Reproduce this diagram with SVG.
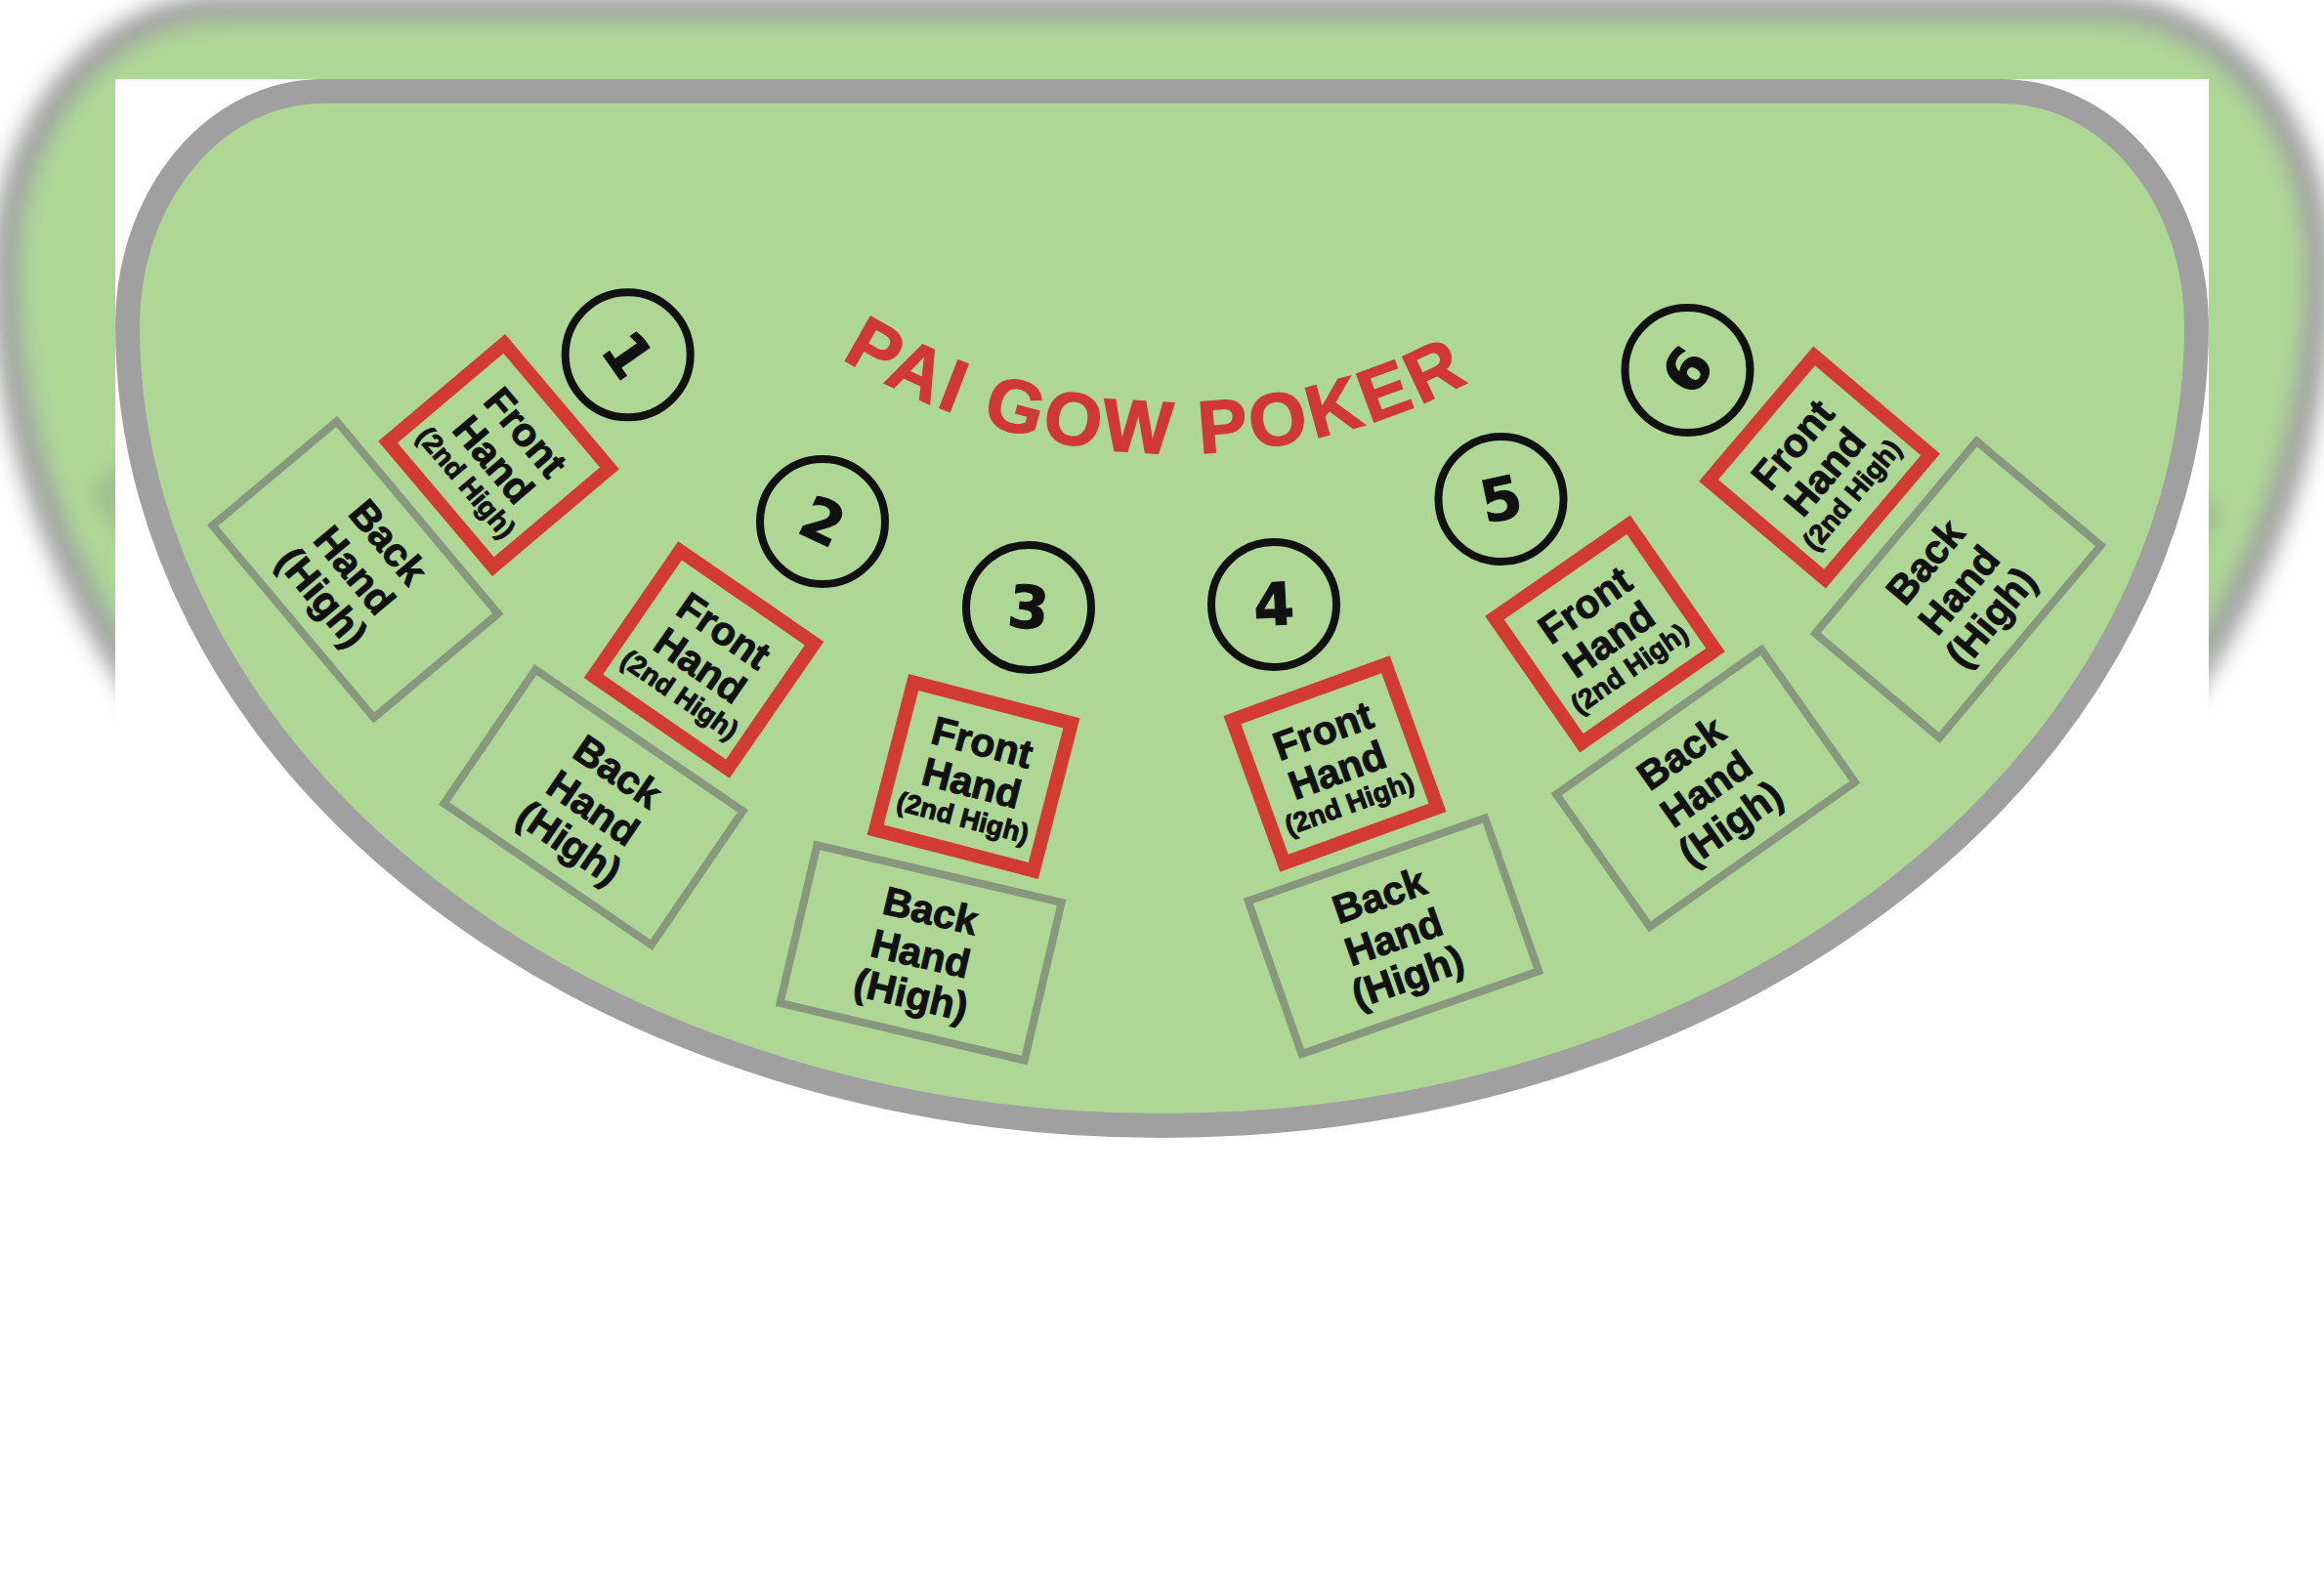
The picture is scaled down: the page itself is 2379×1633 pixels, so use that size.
<svg xmlns="http://www.w3.org/2000/svg" width="2379" height="1633" viewBox="0 0 2379 1633">
<defs>
<style>
.felt{fill:#aed796;stroke:#a0a0a0;stroke-width:25}
.front{fill:none;stroke:#d23a34;stroke-width:14}
.back{fill:none;stroke:#87987f;stroke-width:8}
.seat{fill:none;stroke:#111;stroke-width:8}
.lbl{font-family:"Liberation Sans",Arial,sans-serif;font-weight:bold;fill:#111;stroke:#111;stroke-width:1px;text-anchor:middle}
.big{font-size:41px}
.small{font-size:28px}
.num{font-family:"DejaVu Sans",sans-serif;font-weight:bold;font-size:60px;fill:#111;stroke:#111;stroke-width:1px;text-anchor:middle}
.title{font-family:"Liberation Sans",Arial,sans-serif;font-weight:bold;font-size:76px;fill:#cf3836;stroke:#cf3836;stroke-width:1.5px;letter-spacing:4px;text-anchor:middle}
</style>
<path id="outline" d="M330,93.5 H2049 A199.5,239.5 0 0 1 2248.5,333 A1059,819.5 0 0 1 130.5,333 A199.5,239.5 0 0 1 330,93.5 Z"/>
<path id="titleArc" d="M743.9,273.7 A650,650 0 0 0 1629.9,304.7" fill="none"/>
<filter id="blur" x="-20%" y="-20%" width="140%" height="140%"><feGaussianBlur stdDeviation="10"/></filter>
</defs>
<rect width="2379" height="1633" fill="#ffffff"/>
<g id="backdrop" filter="url(#blur)" transform="translate(1189.5,815) scale(1.1185) translate(-1189.5,-815)">
<use href="#outline" class="felt"/>
<rect class="back" x="-128.5" y="-83" width="257" height="166" transform="translate(363.7,583.2) rotate(50)"/>
<rect class="back" x="-128.5" y="-83" width="257" height="166" transform="translate(2004.4,603.5) rotate(-50)"/>
</g>
<rect x="118" y="81" width="2143" height="1552" fill="#ffffff"/>
<g id="table"><use href="#outline" class="felt"/></g>
<g id="title"><text class="title"><textPath href="#titleArc" startOffset="50%">PAI GOW POKER</textPath></text></g>

<g id="seat-1-number" transform="translate(642.7,363.3)"><circle class="seat" r="64"/><text class="num" y="21" transform="rotate(55)">1</text></g>
<g id="seat-1-front" transform="translate(510.5,466) rotate(49.8)"><rect class="front" x="-83.5" y="-78" width="167" height="156"/><text class="lbl big" y="-22">Front</text><text class="lbl big" y="21">Hand</text><text class="lbl small" y="53">(2nd High)</text></g>
<g id="seat-1-back" transform="translate(363.7,583.2) rotate(50)"><rect class="back" x="-128.5" y="-83" width="257" height="166"/><text class="lbl big" y="-30">Back</text><text class="lbl big" y="15">Hand</text><text class="lbl big" y="58">(High)</text></g>

<g id="seat-2-number" transform="translate(842,534)"><circle class="seat" r="64"/><text class="num" y="21" transform="rotate(25)">2</text></g>
<g id="seat-2-front" transform="translate(720.5,675.5) rotate(34.6)"><rect class="front" x="-83.5" y="-78" width="167" height="156"/><text class="lbl big" y="-22">Front</text><text class="lbl big" y="21">Hand</text><text class="lbl small" y="53">(2nd High)</text></g>
<g id="seat-2-back" transform="translate(607.5,826.5) rotate(34.3)"><rect class="back" x="-128.5" y="-83" width="257" height="166"/><text class="lbl big" y="-30">Back</text><text class="lbl big" y="15">Hand</text><text class="lbl big" y="58">(High)</text></g>

<g id="seat-3-number" transform="translate(1053,622)"><circle class="seat" r="64"/><text class="num" y="21" transform="rotate(6)">3</text></g>
<g id="seat-3-front" transform="translate(996.5,795) rotate(14.5)"><rect class="front" x="-83.5" y="-78" width="167" height="156"/><text class="lbl big" y="-22">Front</text><text class="lbl big" y="21">Hand</text><text class="lbl small" y="53">(2nd High)</text></g>
<g id="seat-3-back" transform="translate(942.6,975.5) rotate(13.2)"><rect class="back" x="-128.5" y="-83" width="257" height="166"/><text class="lbl big" y="-30">Back</text><text class="lbl big" y="15">Hand</text><text class="lbl big" y="58">(High)</text></g>

<g id="seat-4-number" transform="translate(1304,619)"><circle class="seat" r="64"/><text class="num" y="21" transform="rotate(-3)">4</text></g>
<g id="seat-4-front" transform="translate(1366.5,782) rotate(-19.9)"><rect class="front" x="-83.5" y="-78" width="167" height="156"/><text class="lbl big" y="-22">Front</text><text class="lbl big" y="21">Hand</text><text class="lbl small" y="53">(2nd High)</text></g>
<g id="seat-4-back" transform="translate(1426.4,958.4) rotate(-19.3)"><rect class="back" x="-128.5" y="-83" width="257" height="166"/><text class="lbl big" y="-30">Back</text><text class="lbl big" y="15">Hand</text><text class="lbl big" y="58">(High)</text></g>

<g id="seat-5-number" transform="translate(1536.5,511)"><circle class="seat" r="64"/><text class="num" y="21" transform="rotate(-12)">5</text></g>
<g id="seat-5-front" transform="translate(1643,649) rotate(-34.8)"><rect class="front" x="-83.5" y="-78" width="167" height="156"/><text class="lbl big" y="-22">Front</text><text class="lbl big" y="21">Hand</text><text class="lbl small" y="53">(2nd High)</text></g>
<g id="seat-5-back" transform="translate(1746,807) rotate(-35.2)"><rect class="back" x="-128.5" y="-83" width="257" height="166"/><text class="lbl big" y="-30">Back</text><text class="lbl big" y="15">Hand</text><text class="lbl big" y="58">(High)</text></g>

<g id="seat-6-number" transform="translate(1727.5,379)"><circle class="seat" r="64"/><text class="num" y="21" transform="rotate(-55)">6</text></g>
<g id="seat-6-front" transform="translate(1862.6,478.6) rotate(-49.7)"><rect class="front" x="-83.5" y="-78" width="167" height="156"/><text class="lbl big" y="-22">Front</text><text class="lbl big" y="21">Hand</text><text class="lbl small" y="53">(2nd High)</text></g>
<g id="seat-6-back" transform="translate(2004.4,603.5) rotate(-50)"><rect class="back" x="-128.5" y="-83" width="257" height="166"/><text class="lbl big" y="-30">Back</text><text class="lbl big" y="15">Hand</text><text class="lbl big" y="58">(High)</text></g>
</svg>
